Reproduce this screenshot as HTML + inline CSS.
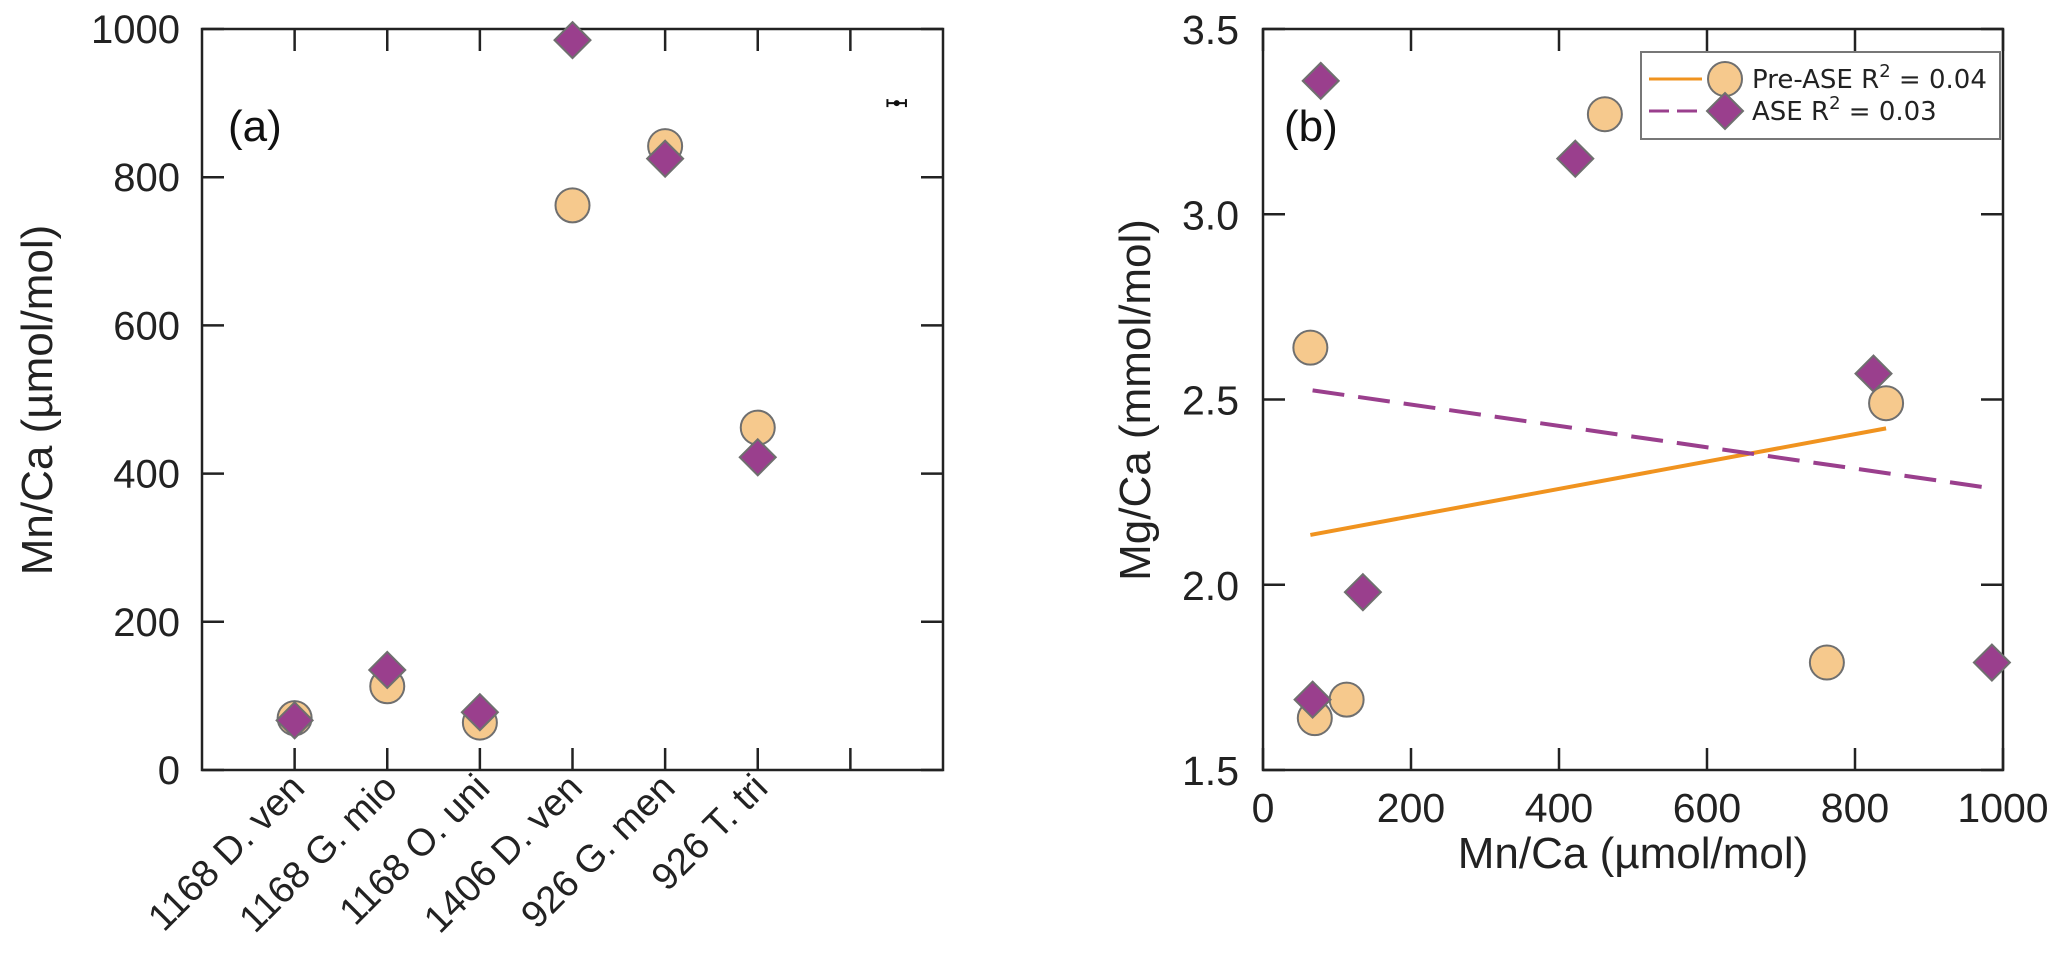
<!DOCTYPE html>
<html><head><meta charset="utf-8"><style>
html,body{margin:0;padding:0;background:#fff;}
svg{display:block;font-family:"Liberation Sans",Arial,sans-serif;}
</style></head><body>
<svg id="fig" width="2067" height="954" viewBox="0 0 2067 954" xmlns="http://www.w3.org/2000/svg">
<g id="pa"></g>
<g id="pb"></g>
</svg>
<script>
const categories = ["1168 D. ven","1168 G. mio","1168 O. uni","1406 D. ven","926 G. men","926 T. tri"];
const preMn = [70, 113, 64, 762, 842, 462];
const aseMn = [67, 135, 78, 985, 825, 422];
const preMg = [1.64, 1.69, 2.64, 1.79, 2.49, 3.27];
const aseMg = [1.69, 1.98, 3.36, 1.79, 2.57, 3.15];
const aTicks = [0, 200, 400, 600, 800, 1000];
const bXTicks = [0, 200, 400, 600, 800, 1000];
const bYTicks = [1.5, 2.0, 2.5, 3.0, 3.5];
const bYTickLabels = ["1.5","2.0","2.5","3.0","3.5"];
const errBar = {cat: 7.5, value: 900, halfWidth: 0.1};
const legendLabels = [["Pre-ASE R","2"," = 0.04"],["ASE R","2"," = 0.03"]];

const NS = "http://www.w3.org/2000/svg";
const ORANGE_FILL = "#f6c98d", PURPLE = "#9a3f8d", EDGE = "#6f6f6f", ORANGE_LINE = "#f0931f";
function mk(parent, tag, attrs, text){
  const e = document.createElementNS(NS, tag);
  for (const k in attrs) e.setAttribute(k, attrs[k]);
  if (text !== undefined) e.textContent = text;
  parent.appendChild(e);
  return e;
}
function circle(g, cx, cy){
  return mk(g, "circle", {cx:cx, cy:cy, r:17, fill:ORANGE_FILL, stroke:EDGE, "stroke-width":2});
}
function diamond(g, cx, cy){
  const s = 18;
  return mk(g, "polygon", {points:`${cx},${cy-s} ${cx+s},${cy} ${cx},${cy+s} ${cx-s},${cy}`, fill:PURPLE, stroke:EDGE, "stroke-width":2});
}
function fit(xs, ys){
  const n = xs.length;
  const mx = xs.reduce((a,b)=>a+b,0)/n, my = ys.reduce((a,b)=>a+b,0)/n;
  let sxy=0, sxx=0;
  for (let i=0;i<n;i++){ sxy += (xs[i]-mx)*(ys[i]-my); sxx += (xs[i]-mx)**2; }
  const m = sxy/sxx;
  return {m:m, b:my-m*mx, x0:Math.min(...xs), x1:Math.max(...xs)};
}

/* ---------- Panel A ---------- */
const pa = document.getElementById("pa");
const A = {l:202, r:943, t:29, b:770};
const ax = v => A.l + (v/8)*(A.r-A.l);
const ay = v => A.b - (v/1000)*(A.b-A.t);
const frameA = mk(pa, "rect", {x:A.l, y:A.t, width:A.r-A.l, height:A.b-A.t, fill:"none", stroke:"#222", "stroke-width":2.5});


aTicks.forEach(v => {
  const y = ay(v);
  const t1 = mk(pa, "line", {x1:A.l, x2:A.l+22, y1:y, y2:y, stroke:"#222", "stroke-width":2.5});
  
  
  const t2 = mk(pa, "line", {x1:A.r, x2:A.r-22, y1:y, y2:y, stroke:"#222", "stroke-width":2.5});
  
  
  const lb = mk(pa, "text", {x:A.l-22, y:y+14, "text-anchor":"end", "font-size":40, fill:"#222"}, String(v));
  
  
});
for (let i=1;i<=7;i++){
  const x = ax(i);
  const t1 = mk(pa, "line", {x1:x, x2:x, y1:A.b, y2:A.b-22, stroke:"#222", "stroke-width":2.5});
  
  
  const t2 = mk(pa, "line", {x1:x, x2:x, y1:A.t, y2:A.t+22, stroke:"#222", "stroke-width":2.5});
  
  
}
categories.forEach((c,i) => {
  const x = ax(i+1)+12, y = 790;
  const lb = mk(pa, "text", {x:x, y:y, "text-anchor":"end", "font-size":38, fill:"#222", transform:`rotate(-45 ${x} ${y})`}, c);
  
  
});
const yTitleA = mk(pa, "text", {x:0, y:0, "text-anchor":"middle", "font-size":44, fill:"#222", transform:`translate(52 400) rotate(-90)`}, "Mn/Ca (µmol/mol)");


const tagA = mk(pa, "text", {x:228, y:141, "font-size":44, fill:"#111"}, "(a)");


preMn.forEach((v,i) => {
  const c = circle(pa, ax(i+1), ay(v));
  
  
});
aseMn.forEach((v,i) => {
  const d = diamond(pa, ax(i+1), ay(v));
  
  
});
{
  const eg = mk(pa, "g", {});
  
  
  const x0 = ax(errBar.cat - errBar.halfWidth), x1 = ax(errBar.cat + errBar.halfWidth), y = ay(errBar.value);
  mk(eg, "line", {x1:x0, x2:x1, y1:y, y2:y, stroke:"#111", "stroke-width":2});
  mk(eg, "line", {x1:x0, x2:x0, y1:y-4, y2:y+4, stroke:"#111", "stroke-width":2});
  mk(eg, "line", {x1:x1, x2:x1, y1:y-4, y2:y+4, stroke:"#111", "stroke-width":2});
  mk(eg, "circle", {cx:ax(errBar.cat), cy:y, r:3, fill:"#111"});
}

/* ---------- Panel B ---------- */
const pb = document.getElementById("pb");
const B = {l:1263, r:2003, t:29, b:770};
const bx = v => B.l + (v/1000)*(B.r-B.l);
const by = v => B.b - ((v-1.5)/2)*(B.b-B.t);
const frameB = mk(pb, "rect", {x:B.l, y:B.t, width:B.r-B.l, height:B.b-B.t, fill:"none", stroke:"#222", "stroke-width":2.5});


bYTicks.forEach((v,i) => {
  const y = by(v);
  const t1 = mk(pb, "line", {x1:B.l, x2:B.l+22, y1:y, y2:y, stroke:"#222", "stroke-width":2.5});
  
  
  const t2 = mk(pb, "line", {x1:B.r, x2:B.r-22, y1:y, y2:y, stroke:"#222", "stroke-width":2.5});
  
  
  const lb = mk(pb, "text", {x:B.l-24, y:y+15, "text-anchor":"end", "font-size":41, fill:"#222"}, bYTickLabels[i]);
  
  
});
bXTicks.forEach(v => {
  const x = bx(v);
  const t1 = mk(pb, "line", {x1:x, x2:x, y1:B.b, y2:B.b-22, stroke:"#222", "stroke-width":2.5});
  
  
  const t2 = mk(pb, "line", {x1:x, x2:x, y1:B.t, y2:B.t+22, stroke:"#222", "stroke-width":2.5});
  
  
  const lb = mk(pb, "text", {x:x, y:822, "text-anchor":"middle", "font-size":41, fill:"#222"}, String(v));
  
  
});
const xTitleB = mk(pb, "text", {x:1633, y:868, "text-anchor":"middle", "font-size":44, fill:"#222"}, "Mn/Ca (µmol/mol)");


const yTitleB = mk(pb, "text", {x:0, y:0, "text-anchor":"middle", "font-size":44, fill:"#222", transform:`translate(1150 400) rotate(-90)`}, "Mg/Ca (mmol/mol)");


const tagB = mk(pb, "text", {x:1284, y:141, "font-size":44, fill:"#111"}, "(b)");



const fPre = fit(preMn, preMg), fAse = fit(aseMn, aseMg);
const lPre = mk(pb, "line", {x1:bx(fPre.x0), y1:by(fPre.m*fPre.x0+fPre.b), x2:bx(fPre.x1), y2:by(fPre.m*fPre.x1+fPre.b), stroke:ORANGE_LINE, "stroke-width":4});


const lAse = mk(pb, "line", {x1:bx(fAse.x0), y1:by(fAse.m*fAse.x0+fAse.b), x2:bx(fAse.x1), y2:by(fAse.m*fAse.x1+fAse.b), stroke:PURPLE, "stroke-width":4, "stroke-dasharray":"32,14"});



preMn.forEach((v,i) => {
  const c = circle(pb, bx(v), by(preMg[i]));
  
  
});
aseMn.forEach((v,i) => {
  const d = diamond(pb, bx(v), by(aseMg[i]));
  
  
});

/* legend */
const lg = mk(pb, "g", {});


mk(lg, "rect", {x:1641, y:52, width:359, height:87, fill:"#fff", stroke:"#777", "stroke-width":2});
[79, 111].forEach((y, i) => {
  const e = mk(lg, "g", {});
  
  
  if (i === 0) { mk(e, "line", {x1:1649, x2:1702, y1:y, y2:y, stroke:ORANGE_LINE, "stroke-width":3}); circle(e, 1725, y); }
  else { mk(e, "line", {x1:1649, x2:1702, y1:y, y2:y, stroke:PURPLE, "stroke-width":3, "stroke-dasharray":"20,8"}); diamond(e, 1725, y); }
  const t = mk(e, "text", {x:1752, y:y+9, "font-size":26, fill:"#222", "font-family":"DejaVu Sans, sans-serif"});
  const lab = legendLabels[i];
  mk(t, "tspan", {}, lab[0]);
  mk(t, "tspan", {dy:-11, "font-size":18}, lab[1]);
  mk(t, "tspan", {dy:11}, lab[2]);
});
</script>
</body></html>
